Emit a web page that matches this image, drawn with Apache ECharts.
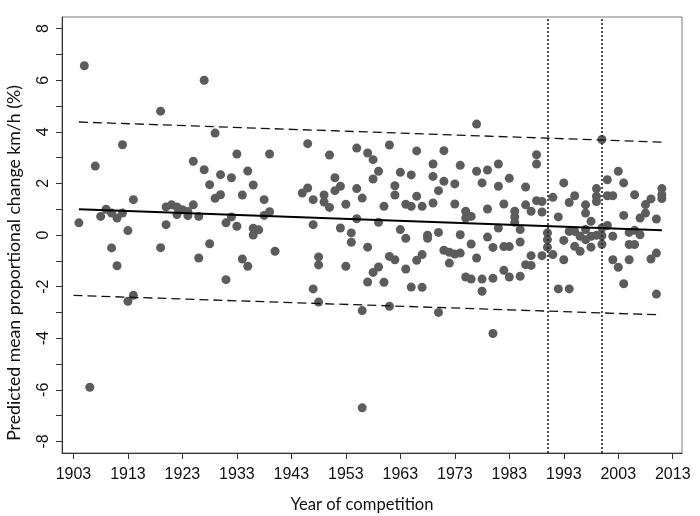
<!DOCTYPE html>
<html>
<head>
<meta charset="utf-8">
<script src="https://cdn.jsdelivr.net/npm/echarts@6/dist/echarts.min.js"></script>
<style>
  html, body { margin: 0; padding: 0; background: #fff; }
  #chart { width: 700px; height: 516px; }
</style>
</head>
<body>
<div id="chart"></div>
<script>
// year of each competition and its predicted change (%)
const years = [
  1904, 1905, 1906, 1907, 1908, 1909, 1910, 1910, 1911, 1911, 1912, 1912, 1913, 1913, 1914, 1914,
  1919, 1919, 1920, 1920, 1921, 1922, 1922, 1923, 1924, 1924, 1925, 1925, 1926, 1926,
  1927, 1927, 1928, 1928, 1929, 1929, 1930, 1930, 1931, 1931, 1932, 1932, 1933, 1933,
  1934, 1934, 1935, 1935, 1936, 1936, 1936, 1937, 1938, 1938, 1939, 1939, 1940,
  1945, 1946, 1946, 1947, 1947, 1947, 1948, 1948, 1948, 1949, 1949, 1950, 1950,
  1951, 1951, 1952, 1952, 1953, 1953, 1954, 1954, 1955, 1955, 1955, 1956, 1956, 1956,
  1957, 1957, 1957, 1958, 1958, 1958, 1959, 1959, 1959, 1960, 1960, 1961, 1961, 1961,
  1962, 1962, 1962, 1963, 1963, 1964, 1964, 1964, 1965, 1965, 1965, 1966, 1966, 1966,
  1967, 1967, 1967, 1968, 1968, 1969, 1969, 1969, 1970, 1970, 1970, 1971, 1971, 1971,
  1972, 1972, 1973, 1973, 1973, 1974, 1974, 1974, 1975, 1975, 1975, 1976, 1976, 1976,
  1977, 1977, 1977, 1978, 1978, 1978, 1979, 1979, 1979, 1980, 1980, 1980, 1981, 1981, 1981,
  1982, 1982, 1982, 1983, 1983, 1983, 1984, 1984, 1984, 1985, 1985, 1985, 1986, 1986, 1986,
  1987, 1987, 1987, 1988, 1988, 1988, 1989, 1989, 1989, 1990, 1990, 1990, 1991, 1991,
  1992, 1992, 1993, 1993, 1993, 1994, 1994, 1994, 1995, 1995, 1995, 1996, 1996,
  1997, 1997, 1997, 1997, 1998, 1998, 1998, 1999, 1999, 1999, 1999, 2000, 2000, 2000, 2000,
  2001, 2001, 2001, 2002, 2002, 2002, 2003, 2003, 2004, 2004, 2004, 2005, 2005, 2005,
  2006, 2006, 2006, 2007, 2007, 2008, 2008, 2009, 2009, 2010, 2010, 2010, 2011, 2011, 2011
];
const changes = [
  0.47, 6.56, -5.9, 2.67, 0.72, 1.0, 0.85, -0.5, 0.66, -1.19, 3.5, 0.85, 0.17, -2.57, 1.37, -2.34,
  4.8, -0.49, 1.09, 0.4, 1.17, 1.09, 0.79, 0.98, 0.91, 0.75, 2.86, 1.17, 0.72, -0.89,
  6.0, 2.53, 1.95, -0.34, 3.95, 1.42, 2.34, 1.56, 0.47, -1.73, 2.22, 0.7, 3.14, 0.34,
  1.55, -0.93, 2.48, -1.21, 1.94, 0.26, 0.0, 0.2, 1.37, 0.76, 3.14, 0.9, -0.63,
  1.63, 3.54, 1.82, 1.37, 0.4, -2.09, -0.85, -1.16, -2.6, 1.55, 1.28, 3.1, 1.07,
  2.22, 1.72, 1.89, 0.27, 1.19, -1.21, 0.08, -0.28, 3.37, 1.8, 0.63, 1.43, -2.93, -6.7,
  3.18, -0.47, -1.82, 2.92, 2.17, -1.45, 2.47, 0.49, -1.24, 1.11, -1.83, 3.49, -0.83, -2.76,
  1.91, 1.55, -0.96, 2.43, 0.21, 1.19, -0.13, -1.32, 2.33, 1.11, -2.02, 3.26, 1.5, -0.98,
  1.11, -0.76, -2.03, -0.01, -0.13, 2.75, 2.27, 1.24, 1.72, 0.1, -3.0, 3.27, 2.08, -0.59,
  -0.67, -1.09, 1.98, 1.2, -0.74, 2.7, 0.01, -0.7, 0.92, 0.66, -1.63, 0.72, -0.35, -1.71,
  4.3, 2.47, -0.89, 2.02, -1.71, -2.18, 2.52, 1.01, -0.08, -0.48, -1.68, -3.82, 2.75, 1.89, 0.27,
  1.2, -0.45, -1.37, 2.2, -0.45, -1.63, 0.92, 0.7, 0.49, 0.21, -0.27, -1.6, 1.86, 1.17, -1.15,
  0.92, -0.8, -1.18, 3.11, 2.75, 1.33, 1.3, 0.89, -0.8, 0.08, -0.18, -0.47, 1.46, -0.76,
  0.7, -2.09, 2.02, -0.21, -0.96, 1.26, 0.14, -2.09, 1.52, 0.14, -0.44, -0.05, -0.63,
  1.17, 0.85, 0.21, -0.18, 0.53, -0.05, -0.47, 1.8, 1.5, 1.3, -0.01, 3.7, 0.27, -0.03, -0.36,
  2.14, 1.52, 0.37, 1.52, -0.05, -0.96, 2.47, -1.25, 2.02, 0.76, -1.89, 0.1, -0.37, -0.96,
  1.56, 0.18, -0.37, 0.66, 0.01, 1.18, 0.85, 1.4, -0.93, 0.62, -0.7, -2.29, 1.8, 1.56, 1.41
];

// fitted trend and its prediction band (end points)
const fitYears = [1904, 2011];
const fitMean = [1.0, 0.18];
const upperYears = [1904, 2011];
const upperBand = [4.38, 3.6];
const lowerYears = [1903, 2010];
const lowerBand = [-2.34, -3.09];

// dotted reference years
const markYears = [1990, 2000];

const xTicks = [1903, 1913, 1923, 1933, 1943, 1953, 1963, 1973, 1983, 1993, 2003, 2013];
const yTicks = [-8, -7, -6, -5, -4, -3, -2, -1, 0, 1, 2, 3, 4, 5, 6, 7, 8];
const yLabels = [-8, -6, -4, -2, 0, 2, 4, 6, 8];

const chart = echarts.init(document.getElementById('chart'));

const pts = years.map((y, i) => [y, changes[i]]);
const pair = (xs, ys) => xs.map((x, i) => [x, ys[i]]);
const tickFont = "'Liberation Sans', Arial, sans-serif";

const option = {
  animation: false,
  grid: {
    left: 62, right: 18, top: 17, bottom: 63,
    show: true, borderColor: '#7a7a7a', borderWidth: 1
  },
  // axis titles sit a little off-centre in the original, so place them by hand
  graphic: [
    {
      type: 'text', x: 362, y: 505,
      style: {
        text: 'Year of competition', font: "16.6px Lato, sans-serif",
        fill: '#111', align: 'center', verticalAlign: 'middle'
      }
    },
    {
      type: 'text', x: 14, y: 263, rotation: Math.PI / 2,
      style: {
        text: 'Predicted mean proportional change km/h (%)', font: "17.7px Lato, sans-serif",
        fill: '#111', align: 'center', verticalAlign: 'middle'
      }
    }
  ],
  xAxis: {
    type: 'value',
    min: 1900.9, max: 2014.7,
    splitLine: { show: false },
    axisLine: { show: true, onZero: false, lineStyle: { color: '#333', width: 1 } },
    axisTick: { show: true, length: 6, customValues: xTicks, lineStyle: { color: '#333' } },
    axisLabel: {
      customValues: xTicks, margin: 14,
      formatter: v => String(v),
      fontFamily: tickFont, fontSize: 16, color: '#111'
    }
  },
  yAxis: {
    type: 'value',
    min: -8.45, max: 8.45,
    splitLine: { show: false },
    axisLine: { show: true, onZero: false, lineStyle: { color: '#333', width: 1 } },
    axisTick: { show: true, length: 6, customValues: yTicks, lineStyle: { color: '#333' } },
    axisLabel: {
      customValues: yLabels, rotate: 90, margin: 10,
      formatter: v => String(v),
      fontFamily: tickFont, fontSize: 16, color: '#111'
    }
  },
  series: [
    {
      type: 'scatter',
      data: pts,
      symbol: 'circle',
      symbolSize: 9,
      itemStyle: { color: '#5c5c5c', opacity: 1 },
      z: 2,
      markLine: {
        silent: true,
        symbol: 'none',
        label: { show: false },
        lineStyle: { color: '#222', width: 1.6, type: [2, 2] },
        data: markYears.map(y => ({ xAxis: y }))
      }
    },
    {
      type: 'line',
      data: pair(fitYears, fitMean),
      showSymbol: false,
      lineStyle: { color: '#000', width: 2 },
      z: 3
    },
    {
      type: 'line',
      data: pair(upperYears, upperBand),
      showSymbol: false,
      lineStyle: { color: '#111', width: 1.3, type: [9, 5] },
      z: 3
    },
    {
      type: 'line',
      data: pair(lowerYears, lowerBand),
      showSymbol: false,
      lineStyle: { color: '#111', width: 1.3, type: [9, 5] },
      z: 3
    }
  ]
};

chart.setOption(option);
</script>
</body>
</html>
